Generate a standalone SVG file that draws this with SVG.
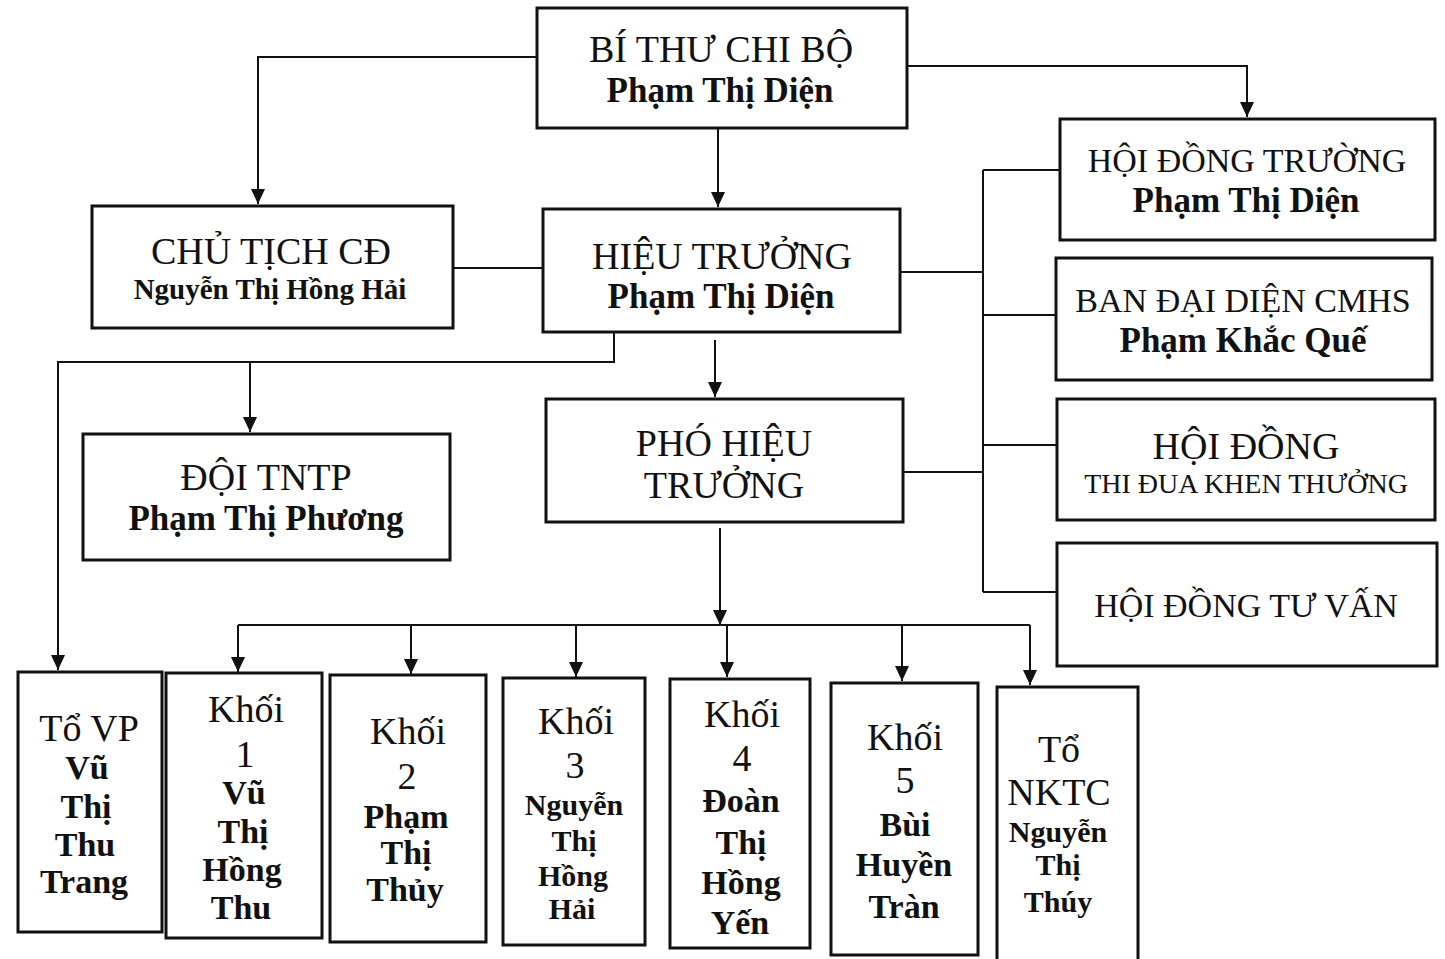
<svg xmlns="http://www.w3.org/2000/svg" width="1445" height="959" viewBox="0 0 1445 959">
<style>
.box{fill:#fff;stroke:#111;stroke-width:3}
.ln{fill:none;stroke:#111;stroke-width:2}
text{font-family:"Liberation Serif","Times New Roman",serif;fill:#111;text-anchor:middle}
.r{font-size:38px}
.rr{font-size:34px}
.b{font-size:35px;font-weight:bold}
.bs{font-size:29px;font-weight:bold}
.s{font-size:28px}
.k{font-size:38px}
.n{font-size:34px;font-weight:bold}
.ns{font-size:30px;font-weight:bold}
</style>
<defs>
<marker id="arr" viewBox="0 0 10 10" refX="10" refY="5" markerWidth="15" markerHeight="14" preserveAspectRatio="none" orient="auto" markerUnits="userSpaceOnUse"><path d="M0,0 L10,5 L0,10 z" fill="#111"/></marker>
</defs>
<rect width="1445" height="959" fill="#fff"/>
<g id="connectors">
<path class="ln" d="M537,57 H258 V204" marker-end="url(#arr)"/>
<path class="ln" d="M907,66 H1247 V117" marker-end="url(#arr)"/>
<path class="ln" d="M718,128 V207" marker-end="url(#arr)"/>
<path class="ln" d="M453,268 H543"/>
<path class="ln" d="M900,272 H983"/>
<path class="ln" d="M903,472 H983"/>
<path class="ln" d="M983,170 V592"/>
<path class="ln" d="M983,170 H1060 M983,315 H1056 M983,445 H1057 M983,592 H1057"/>
<path class="ln" d="M614,332 V362 H58 V670" marker-end="url(#arr)"/>
<path class="ln" d="M250,362 V432" marker-end="url(#arr)"/>
<path class="ln" d="M715,340 V397" marker-end="url(#arr)"/>
<path class="ln" d="M720,528 V625" marker-end="url(#arr)"/>
<path class="ln" d="M238,625 H1030"/>
<path class="ln" d="M238,625 V672" marker-end="url(#arr)"/>
<path class="ln" d="M411,625 V674" marker-end="url(#arr)"/>
<path class="ln" d="M576,625 V677" marker-end="url(#arr)"/>
<path class="ln" d="M727,625 V677" marker-end="url(#arr)"/>
<path class="ln" d="M902,625 V681" marker-end="url(#arr)"/>
<path class="ln" d="M1030,625 V685" marker-end="url(#arr)"/>
</g>
<g id="bi-thu">
<rect class="box" x="537" y="8" width="370" height="120"/>
<text class="r" x="721" y="62">BÍ THƯ CHI BỘ</text>
<text class="b" x="720" y="102">Phạm Thị Diện</text>
</g>
<g id="chu-tich">
<rect class="box" x="92" y="206" width="361" height="122"/>
<text class="r" x="271" y="264">CHỦ TỊCH CĐ</text>
<text class="bs" x="270" y="299">Nguyễn Thị Hồng Hải</text>
</g>
<g id="hieu-truong">
<rect class="box" x="543" y="209" width="357" height="123"/>
<text class="r" x="722" y="269">HIỆU TRƯỞNG</text>
<text class="b" x="721" y="308">Phạm Thị Diện</text>
</g>
<g id="doi-tntp">
<rect class="box" x="83" y="434" width="367" height="126"/>
<text class="r" x="266" y="490">ĐỘI TNTP</text>
<text class="b" x="266" y="530">Phạm Thị Phương</text>
</g>
<g id="pho-hieu-truong">
<rect class="box" x="546" y="399" width="357" height="123"/>
<text class="r" x="724" y="456">PHÓ HIỆU</text>
<text class="r" x="724" y="498">TRƯỞNG</text>
</g>
<g id="hoi-dong-truong">
<rect class="box" x="1060" y="119" width="375" height="121"/>
<text class="rr" x="1247" y="172">HỘI ĐỒNG TRƯỜNG</text>
<text class="b" x="1246" y="212">Phạm Thị Diện</text>
</g>
<g id="ban-dai-dien">
<rect class="box" x="1056" y="258" width="376" height="122"/>
<text class="rr" x="1243" y="312">BAN ĐẠI DIỆN CMHS</text>
<text class="b" x="1243" y="352">Phạm Khắc Quế</text>
</g>
<g id="thi-dua">
<rect class="box" x="1057" y="399" width="378" height="121"/>
<text class="r" x="1246" y="459">HỘI ĐỒNG</text>
<text class="s" x="1246" y="493">THI ĐUA KHEN THƯỞNG</text>
</g>
<g id="tu-van">
<rect class="box" x="1057" y="543" width="380" height="123"/>
<text class="rr" x="1246" y="617">HỘI ĐỒNG TƯ VẤN</text>
</g>
<g id="to-vp">
<rect class="box" x="18" y="672" width="144" height="260"/>
<text class="k" x="89" y="741">Tổ VP</text>
<text class="n" x="87" y="779">Vũ</text>
<text class="n" x="86" y="818">Thị</text>
<text class="n" x="85" y="856">Thu</text>
<text class="n" x="84" y="893">Trang</text>
</g>
<g id="khoi-1">
<rect class="box" x="166" y="673" width="156" height="265"/>
<text class="k" x="246" y="722">Khối</text>
<text class="k" x="245" y="767">1</text>
<text class="n" x="244" y="804">Vũ</text>
<text class="n" x="243" y="843">Thị</text>
<text class="n" x="242" y="881">Hồng</text>
<text class="n" x="241" y="919">Thu</text>
</g>
<g id="khoi-2">
<rect class="box" x="330" y="675" width="156" height="267"/>
<text class="k" x="408" y="744">Khối</text>
<text class="k" x="407" y="789">2</text>
<text class="n" x="406" y="828">Phạm</text>
<text class="n" x="406" y="864">Thị</text>
<text class="n" x="405" y="901">Thủy</text>
</g>
<g id="khoi-3">
<rect class="box" x="503" y="678" width="142" height="267"/>
<text class="k" x="576" y="734">Khối</text>
<text class="k" x="575" y="778">3</text>
<text class="ns" x="574" y="815">Nguyễn</text>
<text class="ns" x="574" y="851">Thị</text>
<text class="ns" x="573" y="886">Hồng</text>
<text class="ns" x="572" y="919">Hải</text>
</g>
<g id="khoi-4">
<rect class="box" x="670" y="679" width="140" height="269"/>
<text class="k" x="742" y="727">Khối</text>
<text class="k" x="742" y="771">4</text>
<text class="n" x="741" y="812">Đoàn</text>
<text class="n" x="741" y="854">Thị</text>
<text class="n" x="741" y="894">Hồng</text>
<text class="n" x="740" y="934">Yến</text>
</g>
<g id="khoi-5">
<rect class="box" x="831" y="683" width="147" height="272"/>
<text class="k" x="905" y="750">Khối</text>
<text class="k" x="905" y="793">5</text>
<text class="n" x="905" y="836">Bùi</text>
<text class="n" x="904" y="876">Huyền</text>
<text class="n" x="904" y="918">Tràn</text>
</g>
<g id="to-nktc">
<rect class="box" x="997" y="687" width="141" height="275"/>
<text class="k" x="1059" y="762">Tổ</text>
<text class="k" x="1059" y="805">NKTC</text>
<text class="ns" x="1058" y="842">Nguyễn</text>
<text class="ns" x="1058" y="875">Thị</text>
<text class="ns" x="1058" y="912">Thúy</text>
</g>
</svg>
